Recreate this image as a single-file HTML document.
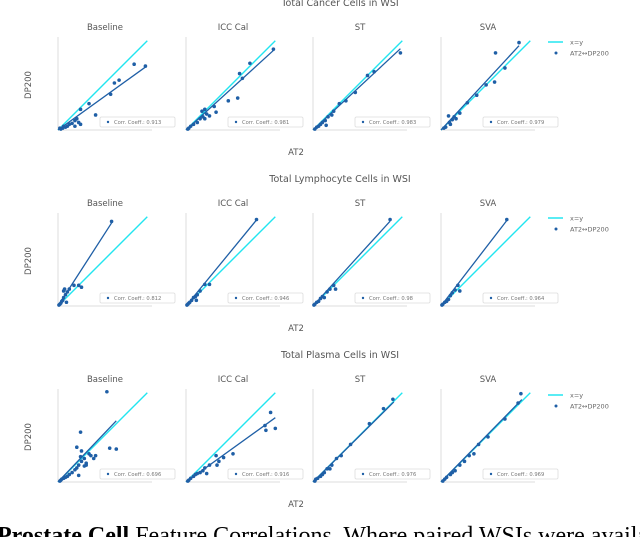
<!DOCTYPE html>
<html><head><meta charset="utf-8"><style>
html,body{margin:0;padding:0;background:#fff;width:640px;height:537px;overflow:hidden;font-family:"DejaVu Sans","Liberation Sans",sans-serif}
svg{position:absolute;left:0;top:0}
.capwrap{position:absolute;left:0;top:522px;width:640px;height:15px;overflow:hidden}
.cap{position:absolute;left:-3px;top:0px;font-family:"Liberation Serif",serif;font-size:24px;line-height:28px;white-space:nowrap;color:#000}
</style></head><body>
<svg id="chart" width="640" height="537"></svg>
<div class="capwrap"><div class="cap"><b>Prostate Cell</b> Feature Correlations. Where paired WSIs were availa</div></div>
<script>
const rowTitles=["Total Cancer Cells in WSI","Total Lymphocyte Cells in WSI","Total Plasma Cells in WSI"];
const colTitles=["Baseline","ICC Cal","ST","SVA"];
const corrValues=[["0.913","0.981","0.983","0.979"],["0.812","0.946","0.98","0.964"],["0.696","0.916","0.976","0.969"]];
const fitSlopes=[[0.72,0.91,0.93,1.08],[1.55,1.22,1.1,1.3],[1.05,0.72,0.99,1.02]];
const fitMaxX=[[93,93,93,83],[57,75,82,70],[62,95,86,86]];
const pts=[
[[[93,68],[81,70],[65,53],[60,50],[56,38],[33,28],[40,16],[24,22],[24,6],[18,10],[18,4],[15,7],[12,6],[10,4],[8,3],[6,4],[5,2],[3,1],[2,2],[20,12],[22,8]],
 [[93,86],[68,71],[60,55],[57,60],[55,34],[45,31],[30,25],[32,19],[25,15],[22,17],[20,12],[18,14],[15,12],[12,8],[8,6],[5,4],[3,2],[2,1],[17,20],[20,22]],
 [[93,82],[65,62],[58,58],[45,40],[35,31],[28,28],[22,20],[20,16],[16,14],[13,10],[10,8],[8,6],[6,4],[4,3],[2,1],[14,5]],
 [[83,93],[58,82],[68,66],[57,51],[48,48],[38,37],[28,29],[20,18],[16,12],[14,14],[12,11],[9,8],[8,15],[5,3],[3,2],[10,6]]],
[[[57,90],[17,22],[22,22],[12,18],[10,15],[8,12],[6,9],[5,6],[4,5],[3,3],[2,2],[1,1],[25,20],[9,4],[6,16],[7,18]],
 [[75,92],[20,23],[25,23],[15,16],[12,12],[10,10],[8,9],[6,6],[4,4],[3,3],[2,2],[1,1],[11,6]],
 [[82,92],[22,22],[24,18],[18,18],[15,15],[10,10],[8,8],[6,5],[4,4],[2,2],[1,1],[12,9]],
 [[70,92],[18,22],[20,16],[15,17],[12,14],[10,11],[8,7],[6,5],[4,4],[2,2],[1,1]]],
[[[52,96],[24,53],[20,37],[25,33],[55,36],[62,35],[40,28],[38,25],[30,20],[28,25],[25,22],[22,18],[20,15],[18,13],[15,10],[12,8],[10,6],[8,5],[6,4],[4,3],[3,2],[2,1],[22,7],[28,17],[30,18],[33,30],[35,28],[24,27]],
 [[90,74],[85,55],[95,57],[84,60],[50,30],[40,26],[35,22],[33,18],[32,28],[25,18],[20,15],[18,12],[15,10],[12,9],[10,8],[8,6],[5,4],[3,2],[2,1],[22,9]],
 [[85,88],[75,78],[60,62],[40,40],[30,28],[25,25],[20,18],[18,14],[15,14],[12,10],[10,8],[8,6],[5,4],[3,3],[2,1]],
 [[85,94],[82,84],[68,67],[50,48],[40,40],[35,30],[30,28],[25,22],[20,18],[15,12],[12,10],[10,8],[6,5],[4,3],[2,1]]]];
const identityMax=95;

const svg=document.getElementById('chart');
const NS="http://www.w3.org/2000/svg";
function mk(tag,attrs,parent){const e=document.createElementNS(NS,tag);for(const k in attrs)e.setAttribute(k,attrs[k]);(parent||svg).appendChild(e);return e;}
function txt(x,y,s,size,fill,anchor,parent){const t=mk('text',{x:x,y:y,'font-size':size,fill:fill,'text-anchor':anchor||'middle','font-family':'DejaVu Sans, Liberation Sans, sans-serif'},parent);t.textContent=s;return t;}
const lefts=[58,186,313,441];
const bottoms=[130,306,482];
const W=94,H=93,sc=0.94;
const DARK="#1f5fa6",CYAN="#22e5f0";

rowTitles.forEach((rt,r)=>{
  const B=bottoms[r];
  const t=txt(340,B-124,rt,9.5,'#555');
  
  
  const yl=txt(0,0,'DP200',8.5,'#555');
  yl.setAttribute('transform','translate(31,'+(B-45)+') rotate(-90)');
  
  
  const xl=txt(296,B+25,'AT2',8.5,'#555');
  
  
  colTitles.forEach((ct,c)=>{
    const L=lefts[c];
    const X=v=>L+v*sc, Y=v=>B-v*sc;
    const g=mk('g',{});
    
    
    const ttl=txt(L+47,B-100,ct,8.5,'#555','middle',g);
    
    
    mk('line',{x1:L,y1:B-H,x2:L,y2:B,stroke:'#ddd','stroke-width':1},g);
    mk('line',{x1:L,y1:B,x2:L+W,y2:B,stroke:'#ddd','stroke-width':1},g);
    const idl=mk('line',{x1:X(0),y1:Y(0),x2:X(identityMax),y2:Y(identityMax),stroke:CYAN,'stroke-width':1.4},g);
    
    
    const s=fitSlopes[r][c],mx=fitMaxX[r][c];
    const fl=mk('line',{x1:X(0),y1:Y(0),x2:X(mx),y2:Y(mx*s),stroke:DARK,'stroke-width':1.3},g);
    
    
    pts[r][c].forEach(p=>{
      const d=mk('circle',{cx:X(p[0]),cy:Y(p[1]),r:1.8,fill:DARK},g);
      
      
    });
    const lb=mk('g',{},g);
    
    
    mk('rect',{x:L+42,y:B-13,width:75,height:10,fill:'#fff',stroke:'#ddd','stroke-width':0.8,rx:1.5},lb);
    mk('circle',{cx:L+50,cy:B-8,r:1.2,fill:DARK},lb);
    txt(L+56,B-6,'Corr. Coeff.: '+corrValues[r][c],5.2,'#777','start',lb);
  });
});
[42,218,395].forEach((y,i)=>{
  const g=mk('g',{});
  
  
  mk('line',{x1:548,y1:y,x2:563,y2:y,stroke:CYAN,'stroke-width':1.5},g);
  txt(570,y+2.5,'x=y',6.5,'#666','start',g);
  mk('circle',{cx:556,cy:y+11,r:1.5,fill:DARK},g);
  txt(570,y+13.5,'AT2↔DP200',6.5,'#666','start',g);
});
</script>
</body></html>
